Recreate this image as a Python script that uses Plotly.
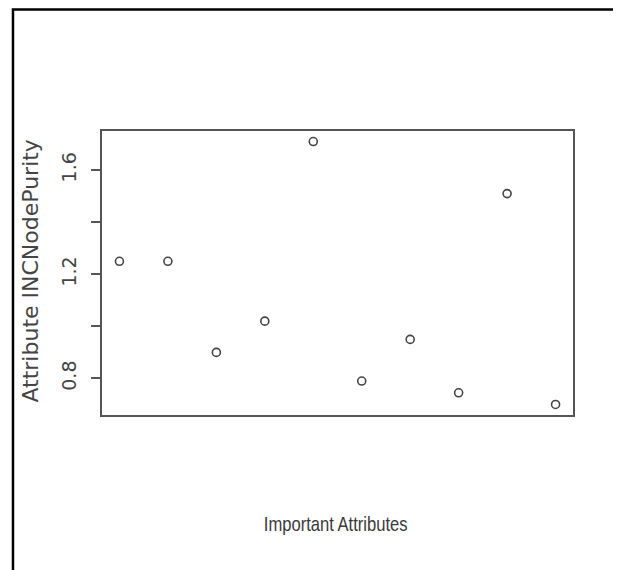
import plotly.graph_objects as go

attribute_index = [1, 2, 3, 4, 5, 6, 7, 8, 9, 10]
inc_node_purity = [1.25, 1.25, 0.90, 1.02, 1.71, 0.79, 0.95, 0.745, 1.51, 0.70]
y_tick_values = [0.8, 1.0, 1.2, 1.4, 1.6]
y_tick_labels = ["0.8", "", "1.2", "", "1.6"]

def padded(vals, frac=0.04):
    lo, hi = min(vals), max(vals)
    span = hi - lo
    return [lo - frac * span, hi + frac * span]

fig = go.Figure()
fig.add_trace(go.Scatter(
    x=attribute_index, y=inc_node_purity, mode="markers",
    marker=dict(symbol="circle-open", size=8, color="#444444", line=dict(width=1.6, color="#444444")),
    showlegend=False, hoverinfo="x+y",
))

axis_line = dict(showline=True, mirror=True, linecolor="#555555", linewidth=1.6,
                 showgrid=False, zeroline=False)

fig.update_layout(
    width=621, height=570,
    margin=dict(l=94, r=56, t=123, b=163),
    paper_bgcolor="white", plot_bgcolor="white",
    xaxis=dict(range=padded(attribute_index), showticklabels=False, ticks="", **axis_line),
    yaxis=dict(range=padded(inc_node_purity), tickvals=y_tick_values, ticktext=y_tick_labels,
               ticks="outside", ticklen=9, tickwidth=1.6, tickcolor="#555555",
               tickangle=-90, ticklabelstandoff=8,
               tickfont=dict(family="DejaVu Sans", size=19, color="#444444"), **axis_line),
    shapes=[dict(type="rect", xref="paper", yref="paper",
                 x0=-0.189, x1=1.0955, y0=-0.6, y1=1.428,
                 line=dict(color="black", width=2.5), fillcolor="rgba(0,0,0,0)", layer="above")],
    annotations=[
        dict(text="Attribute INCNodePurity", xref="paper", yref="paper",
             x=-0.1507, y=0.505, textangle=-90, showarrow=False,
             xanchor="center", yanchor="middle",
             font=dict(family="DejaVu Sans", size=22, color="#444444")),
        dict(text="Important Attributes", xref="paper", yref="paper",
             x=0.4947, y=-0.384, showarrow=False, xanchor="center", yanchor="middle",
             font=dict(family="Liberation Sans", size=20, color="#3a3a3a")),
    ],
)

condense_js = """
document.querySelectorAll('text.annotation-text').forEach(function(t){
  if (t.textContent.indexOf('Important') === 0) {
    t.style.transformBox = 'fill-box';
    t.style.transformOrigin = 'center';
    t.style.transform = 'scaleX(0.83)';
  }
});
"""

fig.write_html("out.html", post_script=condense_js)
